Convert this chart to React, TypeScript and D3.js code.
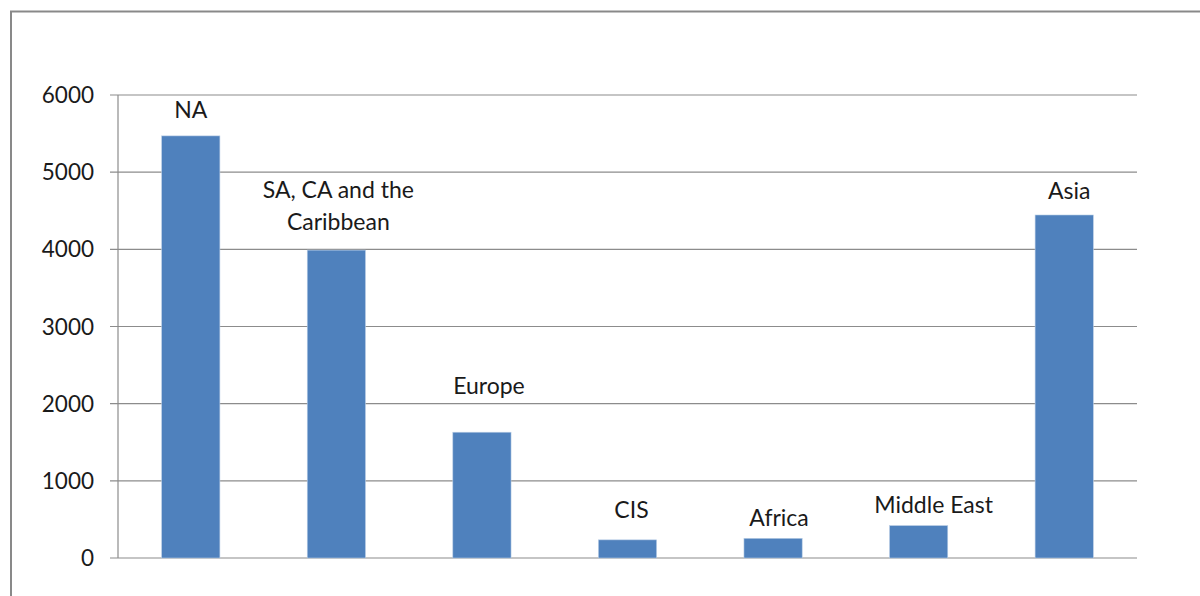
import React from "react";
import * as d3 from "d3";

const regions = ["NA", "SA, CA and the Caribbean", "Europe", "CIS", "Africa", "Middle East", "Asia"];
const values = [5470, 3990, 1630, 235, 255, 420, 4445];
const yTicks = [0, 1000, 2000, 3000, 4000, 5000, 6000];

// label lines (wrapped the way the original shows them)
const labelLines = [["NA"], ["SA, CA and the", "Caribbean"], ["Europe"], ["CIS"], ["Africa"], ["Middle East"], ["Asia"]];
// hand-placed label nudges (px) from the original chart
const labelDx = [0, 2, 7, 4, 6, 15, 5];
const labelGap = [26, 28, 46, 30, 20, 21, 24];

const W = 1200;
const H = 596;
const margin = { left: 118, right: 63, top: 95, bottom: 38 };
const font = "Lato, 'Open Sans', sans-serif";

const App: React.FC = () => {
  const x = d3
    .scaleBand<string>()
    .domain(regions)
    .range([margin.left, W - margin.right])
    .paddingInner(0.6)
    .paddingOuter(0.3);

  const y = d3
    .scaleLinear()
    .domain([0, 6000])
    .range([H - margin.bottom, margin.top]);

  return (
    <svg
      width={W}
      height={H}
      style={{ position: "absolute", left: 0, top: 0, background: "#fff" }}
      fontFamily={font}
    >
      {/* chart frame */}
      <rect x={11} y={11.5} width={1300} height={700} fill="none" stroke="#898989" strokeWidth={2} />

      {/* gridlines + ticks */}
      {yTicks.map((t) => (
        <g key={t}>
          <line x1={margin.left - 8} x2={W - margin.right} y1={y(t)} y2={y(t)} stroke="#8c8c8c" strokeWidth={1.2} />
          <text
            x={94}
            y={y(t)}
            dy="0.36em"
            textAnchor="end"
            fontSize={22.5}
            fill="#1a1a1a"
          >
            {t}
          </text>
        </g>
      ))}
      <line x1={margin.left} x2={margin.left} y1={y(6000)} y2={y(0)} stroke="#8c8c8c" strokeWidth={1.2} />

      {/* bars */}
      {regions.map((r, i) => (
        <rect
          key={r}
          x={x(r)}
          y={y(values[i])}
          width={x.bandwidth()}
          height={y(0) - y(values[i])}
          fill="#4f81bd"
          stroke="#b9cde5"
          strokeWidth={0.6}
        />
      ))}

      {/* data labels */}
      {regions.map((r, i) => {
        const lines = labelLines[i];
        const cx = (x(r) ?? 0) + x.bandwidth() / 2 + labelDx[i];
        const baseY = y(values[i]) - labelGap[i] + 8;
        return (
          <text key={r} x={cx} textAnchor="middle" fontSize={23} fill="#1a1a1a">
            {lines.map((l, k) => (
              <tspan key={k} x={cx} y={baseY - (lines.length - 1 - k) * 32}>
                {l}
              </tspan>
            ))}
          </text>
        );
      })}
    </svg>
  );
};

export default App;
